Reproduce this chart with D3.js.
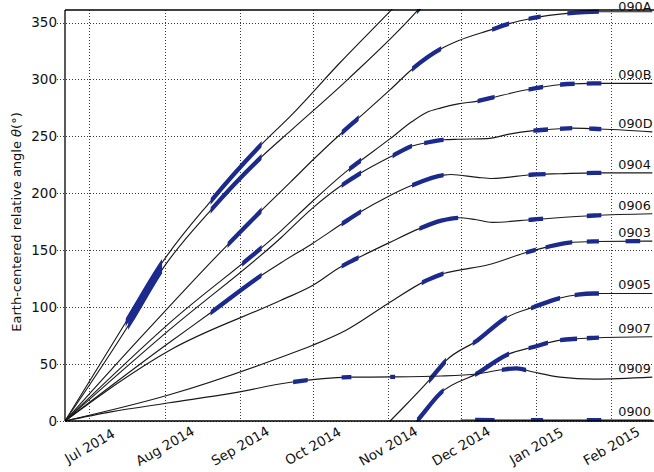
<!DOCTYPE html>
<html>
<head>
<meta charset="utf-8">
<script src="https://cdn.jsdelivr.net/npm/d3@7"></script>
<style>
  html, body { margin: 0; padding: 0; background: #fff; }
  svg { display: block; font-family: "DejaVu Sans", sans-serif; }
</style>
</head>
<body>
<svg id="chart" width="654" height="472"></svg>
<script>
// ---- axis ticks ----
const monthTicks = ["2014-07-01","2014-08-01","2014-09-01","2014-10-01","2014-11-01","2014-12-01","2015-01-01","2015-02-01"];
const angleTicks = [0, 50, 100, 150, 200, 250, 300, 350];

// ---- relative angle tracks [date, angle in degrees, unwrapped] ----
const track090A = [["2014-06-21",0],["2014-07-22",73],["2014-08-23",146],["2014-09-03",170],["2014-09-10",185],["2014-09-22",210],["2014-10-01",229],["2014-10-13",253],["2014-10-21",268],["2014-11-02",291],["2014-11-11",309],["2014-11-23",327],["2014-11-30",334],["2014-12-14",344],["2014-12-21",349],["2014-12-31",354],["2015-01-14",358],["2015-01-27",359.5],["2015-02-18",359.5]];
const track090B = [["2014-06-21",0],["2014-08-03",86],["2014-09-18",167],["2014-10-01",193],["2014-10-16",221],["2014-10-21",229],["2014-11-02",248],["2014-11-11",263],["2014-11-17",271],["2014-11-23",275],["2014-11-30",278.5],["2014-12-08",281],["2014-12-14",284],["2014-12-31",292],["2015-01-14",296],["2015-01-25",296.5],["2015-02-18",296.5]];
const track090D = [["2014-06-21",0],["2014-08-03",80],["2014-09-18",161],["2014-10-01",187],["2014-10-13",207],["2014-10-21",218],["2014-11-03",233],["2014-11-11",241.5],["2014-11-17",244.5],["2014-11-24",247],["2014-11-30",247.5],["2014-12-12",248],["2014-12-21",252],["2014-12-31",255],["2015-01-11",256.7],["2015-01-16",257.2],["2015-01-25",256.7],["2015-02-18",254]];
const track0904 = [["2014-06-21",0],["2014-08-03",69],["2014-08-20",95],["2014-09-10",128],["2014-09-18",139],["2014-10-01",156],["2014-10-13",173],["2014-10-21",184],["2014-11-01",197],["2014-11-11",207],["2014-11-24",216],["2014-11-27",216.5],["2014-12-08",214],["2014-12-14",213],["2014-12-31",216.5],["2015-01-11",217.2],["2015-01-25",218],["2015-02-18",218]];
const track0906 = [["2014-06-21",0],["2014-08-03",62],["2014-09-18",106],["2014-10-01",119],["2014-10-13",136],["2014-10-19",142.5],["2014-11-01",156],["2014-11-14",169],["2014-11-23",176],["2014-11-30",178.5],["2014-12-07",177],["2014-12-14",174.5],["2014-12-31",177],["2015-01-25",180.5],["2015-02-18",182]];
const track0903 = [["2014-06-21",0],["2014-08-03",23],["2014-09-18",56],["2014-10-01",66.5],["2014-10-15",80],["2014-11-01",103],["2014-11-17",123.5],["2014-11-24",129.5],["2014-11-30",132.3],["2014-12-12",137],["2014-12-28",148],["2015-01-05",152.5],["2015-01-14",156.5],["2015-01-25",157.7],["2015-02-18",158]];
const track0905 = [["2014-06-21",0],["2014-07-17",90],["2014-07-31",139],["2014-08-20",193],["2014-09-10",243],["2014-09-22",268],["2014-10-12",314],["2014-11-02",360],["2014-11-19",398],["2014-11-25",413],["2014-12-08",431],["2014-12-20",451],["2014-12-31",460],["2015-01-11",468],["2015-01-25",472],["2015-02-18",472]];
const track0907 = [["2014-06-21",0],["2014-07-18",87],["2014-07-31",133],["2014-08-20",185],["2014-09-10",232],["2014-09-22",255],["2014-10-16",301],["2014-11-13",360],["2014-11-23",385],["2014-12-08",402],["2014-12-20",418],["2014-12-31",425],["2015-01-11",431],["2015-01-25",433],["2015-02-18",434]];
const track0909 = [["2014-06-21",0],["2014-07-10",8],["2014-08-03",16],["2014-08-29",24.5],["2014-09-22",34],["2014-10-16",38.5],["2014-11-03",38.7],["2014-11-23",39.5],["2014-12-08",41.5],["2014-12-18",45],["2014-12-24",46.3],["2014-12-31",43],["2015-01-11",38.5],["2015-01-25",36.8],["2015-02-18",38.5]];
const track0900 = [["2014-12-01",0.9],["2014-12-25",0.8],["2015-02-18",0.8]];

// ---- observation windows drawn as thick segments [start, end] ----
const obs090A = [["2014-08-27","2014-09-10"],["2014-10-13","2014-10-20"],["2014-11-11","2014-11-23"],["2014-12-14","2014-12-21"],["2014-12-29","2015-01-03"],["2015-01-14","2015-01-27"]];
const obs090B = [["2014-09-02","2014-09-10"],["2014-10-16","2014-10-21"],["2014-12-08","2014-12-15"],["2014-12-29","2015-01-04"],["2015-01-11","2015-01-17"],["2015-01-22","2015-01-28"]];
const obs090D = [["2014-10-13","2014-10-21"],["2014-11-03","2014-11-11"],["2014-11-16","2014-11-24"],["2014-12-31","2015-01-06"],["2015-01-11","2015-01-16"],["2015-01-23","2015-01-28"]];
const obs0904 = [["2014-08-20","2014-09-10"],["2014-10-13","2014-10-21"],["2014-11-11","2014-11-24"],["2014-12-29","2015-01-05"],["2015-01-22","2015-01-28"]];
const obs0906 = [["2014-10-13","2014-10-20"],["2014-11-14","2014-11-30"],["2014-12-29","2015-01-04"],["2015-01-22","2015-01-28"]];
const obs0903 = [["2014-11-15","2014-11-24"],["2014-12-28","2015-01-01"],["2015-01-05","2015-01-16"],["2015-01-22","2015-01-27"],["2015-02-07","2015-02-13"]];
const obs0905 = [["2014-07-16","2014-07-31"],["2014-08-20","2014-09-10"],["2014-11-18","2014-11-25"],["2014-12-06","2014-12-20"],["2014-12-30","2015-01-11"],["2015-01-17","2015-01-27"]];
const obs0907 = [["2014-07-17","2014-07-31"],["2014-08-20","2014-09-10"],["2014-11-13","2014-11-24"],["2014-12-07","2014-12-21"],["2014-12-29","2015-01-06"],["2015-01-11","2015-01-18"],["2015-01-22","2015-01-27"]];
const obs0909 = [["2014-09-23","2014-09-29"],["2014-10-13","2014-10-17"],["2014-11-02","2014-11-04"],["2014-12-18","2014-12-28"]];
const obs0900 = [["2014-12-07","2014-12-15"],["2014-12-30","2015-01-04"],["2015-01-22","2015-01-28"]];

const seriesNames = ["090A","090B","090D","0904","0906","0903","0905","0907","0909","0900"];
const tracks  = [track090A, track090B, track090D, track0904, track0906, track0903, track0905, track0907, track0909, track0900];
const windows = [obs090A, obs090B, obs090D, obs0904, obs0906, obs0903, obs0905, obs0907, obs0909, obs0900];
const labelDate = "2015-02-04";

// ---- layout ----
const parse = d3.utcParse("%Y-%m-%d");
const plotL = 65, plotT = 10, plotB = 421, plotR = 679;
const x = d3.scaleUtc().domain([parse("2014-06-21"), parse("2015-03-01")]).range([plotL, plotR]);
const y = d3.scaleLinear().domain([0, 361]).range([plotB, plotT]);

const svg = d3.select("#chart");
const defs = svg.append("defs");
defs.append("clipPath").attr("id", "plot-area")
  .append("rect").attr("x", plotL).attr("y", plotT - 1)
  .attr("width", plotR - plotL).attr("height", plotB - plotT + 1.5);

// dotted grid
const grid = svg.append("g").attr("fill", "none")
  .attr("stroke", "#3a3a3a").attr("stroke-width", 1).attr("stroke-dasharray", "1,2");
grid.selectAll("line.v").data(monthTicks).join("line").attr("class", "v")
  .attr("x1", d => Math.round(x(parse(d))) + 0.5).attr("x2", d => Math.round(x(parse(d))) + 0.5)
  .attr("y1", plotT).attr("y2", plotB);
grid.selectAll("line.h").data(angleTicks).join("line").attr("class", "h")
  .attr("x1", plotL - 8).attr("x2", plotR)
  .attr("y1", d => Math.round(y(d)) + 0.5).attr("y2", d => Math.round(y(d)) + 0.5);

// tracks (angle wraps at 360: draw a second copy shifted down one turn)
const lineAt = shift => d3.line()
  .curve(d3.curveMonotoneX)
  .x(d => x(parse(d[0])))
  .y(d => y(d[1] - shift));

const plot = svg.append("g").attr("clip-path", "url(#plot-area)");

tracks.forEach((tr, i) => {
  const shifts = d3.max(tr, d => d[1]) > 360 ? [0, 360] : [0];
  const clipId = "obs-" + seriesNames[i];
  const cp = defs.append("clipPath").attr("id", clipId);
  cp.selectAll("rect").data(windows[i]).join("rect")
    .attr("x", w => x(parse(w[0])))
    .attr("width", w => x(parse(w[1])) - x(parse(w[0])))
    .attr("y", 0).attr("height", 472);

  shifts.forEach(s => {
    plot.append("path").datum(tr)
      .attr("fill", "none").attr("stroke", "#1a1a1a").attr("stroke-width", 1.15)
      .attr("d", lineAt(s));
  });
  const gb = plot.append("g").attr("clip-path", "url(#" + clipId + ")");
  shifts.forEach(s => {
    gb.append("path").datum(tr)
      .attr("fill", "none").attr("stroke", "#1b2a8c").attr("stroke-width", 4.3)
      .attr("d", lineAt(s));
  });
});

// frame
const frame = svg.append("g").attr("stroke", "#000").attr("stroke-width", 1.3).attr("fill", "none");
frame.append("line").attr("x1", plotL).attr("x2", plotL).attr("y1", plotT).attr("y2", plotB);
frame.append("line").attr("x1", plotL).attr("x2", plotR).attr("y1", plotB).attr("y2", plotB);
frame.append("line").attr("x1", plotL).attr("x2", plotR).attr("y1", plotT).attr("y2", plotT);

// axes labels
const yAxis = svg.append("g").attr("transform", `translate(${plotL},0)`)
  .call(d3.axisLeft(y).tickValues(angleTicks).tickSize(0).tickPadding(8));
yAxis.select(".domain").remove();
yAxis.selectAll("text").attr("font-size", 13.5).attr("font-family", "DejaVu Sans").attr("fill", "#111");

const xAxis = svg.append("g").attr("transform", `translate(0,${plotB})`)
  .call(d3.axisBottom(x).tickValues(monthTicks.map(parse)).tickFormat(d3.utcFormat("%b %Y")).tickSize(0));
xAxis.select(".domain").remove();
xAxis.selectAll("text")
  .attr("font-size", 13.5).attr("font-family", "DejaVu Sans").attr("fill", "#111")
  .attr("y", 0).attr("dy", "0.35em").attr("text-anchor", "middle")
  .attr("transform", "translate(0,25) rotate(-30)");

// y title
const yt = svg.append("text")
  .attr("transform", "translate(21,222) rotate(-90)")
  .attr("text-anchor", "middle").attr("font-size", 13).attr("fill", "#111");
yt.append("tspan").text("Earth-centered relative angle ");
yt.append("tspan").attr("font-style", "italic").text("θ");
yt.append("tspan").text("(°)");

// series labels at the right end
const endAngle = tr => { const v = tr[tr.length - 1][1]; return v > 360 ? v - 360 : v; };
svg.append("g").selectAll("text").data(seriesNames).join("text")
  .attr("x", x(parse(labelDate)))
  .attr("y", (d, i) => Math.max(y(endAngle(tracks[i])) - 4, 10.5))
  .attr("font-size", 12.8).attr("fill", "#111")
  .text(d => d);
</script>
</body>
</html>
